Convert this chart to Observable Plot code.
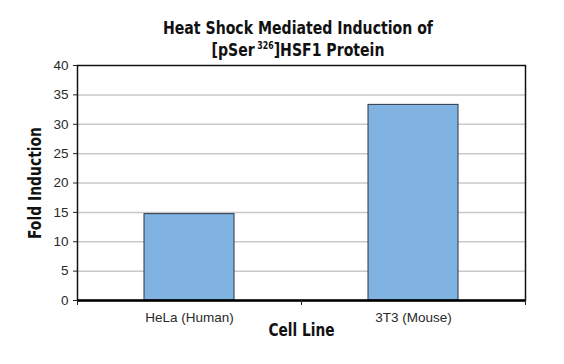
<!DOCTYPE html>
<html>
<head>
<meta charset="utf-8">
<script src="https://cdn.jsdelivr.net/npm/d3@7"></script>
<script src="https://cdn.jsdelivr.net/npm/@observablehq/plot@0.6"></script>
<style>
  html, body { margin: 0; padding: 0; background: #fff; }
  #wrap { position: relative; width: 564px; height: 364px; }
  #title { position: absolute; left: -2px; width: 600px; top: 17px; text-align: center;
    font-family: "DejaVu Sans Condensed", sans-serif; font-weight: bold;
    font-size: 18px; line-height: 22px; color: #111; transform: scaleX(0.87); transform-origin: 300px 0; }
  #title sup { font-size: 10px; vertical-align: 0; position: relative; top: -7px; margin-left: 3px; }
</style>
</head>
<body>
<div id="wrap">
  <div id="chart"></div>
  <div id="title">Heat Shock Mediated Induction of<br>[pSer<sup>326</sup>]HSF1 Protein</div>
</div>
<script>
const categories = ["HeLa (Human)", "3T3 (Mouse)"];
const foldInduction = [14.7, 33.3];
const yTicks = [0, 5, 10, 15, 20, 25, 30, 35, 40];
const gridTicks = [5, 10, 15, 20, 25, 30, 35];
const xTitle = "Cell Line";
const yTitle = "Fold Induction";

const data = categories.map((c, i) => ({cat: c, value: foldInduction[i]}));
const condensed = "'DejaVu Sans Condensed', sans-serif";

const chart = Plot.plot({
  width: 564,
  height: 364,
  marginLeft: 77,
  marginRight: 39,
  marginTop: 65,
  marginBottom: 64,
  style: {fontFamily: "'Liberation Sans', Arial, sans-serif", background: "#fff"},
  x: {domain: categories, paddingInner: 0.6, paddingOuter: 0.3, label: null},
  y: {domain: [0, 40], label: null},
  marks: [
    Plot.ruleY(gridTicks, {stroke: "#c8c8c8", strokeWidth: 1.5}),
    Plot.barY(data, {x: "cat", y: "value", fill: "#80b3e2", stroke: "#2a3440", strokeWidth: 1}),
    Plot.frame({stroke: "#111", strokeWidth: 1.5}),
    Plot.ruleY([0], {stroke: "#000", strokeWidth: 2.5}),
    Plot.axisY({ticks: yTicks, tickSize: 4, tickPadding: 5, fontSize: 13.5, fill: "#2a2a2a", stroke: "#222", label: null}),
    Plot.axisX({tickSize: 0, tickPadding: 12, fontSize: 13.5, fill: "#2a2a2a", label: null}),
    Plot.axisX({ticks: categories, tickSize: 5, text: null, dx: -112, stroke: "#222", label: null}),
    Plot.axisX({ticks: [categories[1]], tickSize: 5, text: null, dx: 112, stroke: "#222", label: null}),
    Plot.text([xTitle], {frameAnchor: "bottom", dy: 35, text: d => d, fontSize: 18, fontWeight: "bold",
      fontFamily: condensed, fill: "#111", className: "xtitle"}),
    Plot.text([yTitle], {frameAnchor: "left", dx: -42, rotate: -90, textAnchor: "middle", text: d => d, fontSize: 18, fontWeight: "bold",
      fontFamily: condensed, fill: "#111", className: "ytitle"})
  ]
});
document.getElementById("chart").appendChild(chart);
// condense axis titles to match the narrow typeface of the original
d3.select(chart).selectAll(".xtitle text").attr("textLength", 66).attr("lengthAdjust", "spacingAndGlyphs");
d3.select(chart).selectAll(".ytitle text").attr("textLength", 112).attr("lengthAdjust", "spacingAndGlyphs");
</script>
</body>
</html>
